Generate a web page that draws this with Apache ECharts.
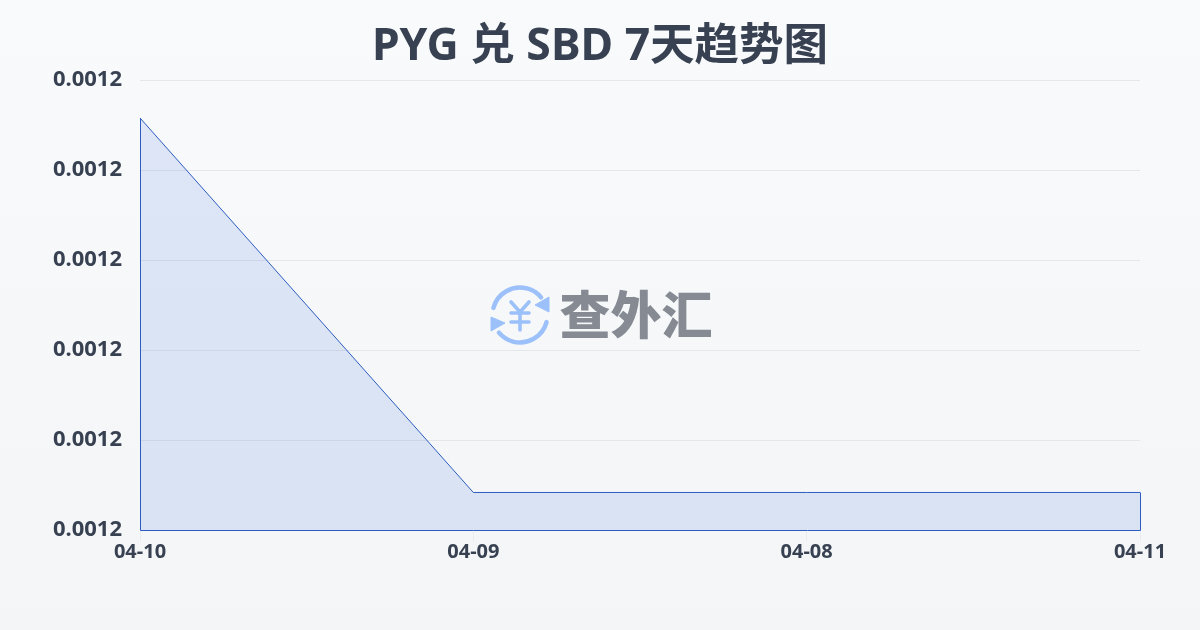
<!DOCTYPE html>
<html>
<head>
<meta charset="utf-8">
<style>html,body{margin:0;padding:0;width:1200px;height:630px;overflow:hidden;background:#f8fafc}#c{width:1200px;height:630px}</style>
<script src="https://cdn.jsdelivr.net/npm/echarts@6/dist/echarts.min.js"></script>
</head>
<body>
<div id="c"></div>
<script>
const titleText = 'PYG 兑 SBD 7天趋势图';
const categories = ['04-10', '04-09', '04-08', '04-11'];
const rates = [0.00123578, 0.00119417, 0.00119417, 0.00119417];
const axisMin = 0.00119, axisMax = 0.00124, axisStep = 0.00001;
const LINE = '#2d5cc0', INK = '#374151', FONT = '"Noto Sans","Noto Sans CJK SC",sans-serif';

const chart = echarts.init(document.getElementById('c'), null, {renderer: 'canvas'});
const BLUE = '#9cc0fa';
const arrow = (pts) => ({type: 'polygon', shape: {points: pts}, style: {fill: BLUE, stroke: BLUE, lineWidth: 1, lineJoin: 'round'}, z: 20, silent: true});
const rad = d => d * Math.PI / 180;
const arc = (a, b) => ({type: 'arc', shape: {cx: 520, cy: 315, r: 27.5, startAngle: rad(a), endAngle: rad(b)},
  style: {stroke: BLUE, lineWidth: 4.5, fill: null, lineCap: 'round'}, z: 20, silent: true});
const seg = (x1, y1, x2, y2) => ({type: 'line', shape: {x1, y1, x2, y2},
  style: {stroke: BLUE, lineWidth: 3.6, lineCap: 'round'}, z: 20, silent: true});

chart.setOption({
  animation: false,
  backgroundColor: new echarts.graphic.LinearGradient(0, 0, 0, 1, [
    {offset: 0, color: '#f8fafc'}, {offset: 1, color: '#f3f5f7'}]),
  title: {text: titleText, left: 'center', top: 20,
    textStyle: {fontFamily: FONT, fontSize: 44.5, fontWeight: 700, color: '#374151'}},
  grid: {left: 140, right: 60, top: 80, bottom: 100},
  xAxis: {type: 'category', data: categories, boundaryGap: false,
    axisLine: {show: false},
    axisTick: {show: true, length: 11, lineStyle: {color: '#e9ebef'}},
    axisLabel: {fontFamily: FONT, fontSize: 20, fontWeight: 700, color: INK, margin: 12, hideOverlap: false, interval: 0},
    splitLine: {show: false}},
  yAxis: {type: 'value', min: axisMin, max: axisMax, interval: axisStep,
    axisLine: {show: false}, axisTick: {show: false},
    axisLabel: {fontFamily: FONT, fontSize: 22, fontWeight: 700, color: INK, margin: 18,
      formatter: v => v.toFixed(4)},
    splitLine: {show: true, lineStyle: {color: '#e5e7eb', width: 1}}},
  series: [
    {type: 'line', data: rates, symbol: 'none', smooth: false, clip: false,
     lineStyle: {color: LINE, width: 1}, areaStyle: {color: 'rgba(37,95,215,0.18)'}, z: 3},
    {type: 'custom', data: rates.map((v, i) => [i, v]), clip: false, silent: true, z: 4,
     encode: {x: 0, y: 1},
     renderItem(params, api) {
       const i = api.value(0), last = rates.length - 1;
       const top = api.coord([i, api.value(1)]), base = api.coord([i, axisMin]);
       const style = {stroke: LINE, lineWidth: 1, fill: null};
       const snap = v => Math.round(v) + 0.5;
       const children = [];
       if (i === 0 || i === last) children.push({type: 'line', shape: {x1: snap(top[0]), y1: top[1], x2: snap(base[0]), y2: snap(base[1])}, style});
       if (i < last) { const next = api.coord([i + 1, axisMin]);
         children.push({type: 'line', shape: {x1: snap(base[0]), y1: snap(base[1]), x2: snap(next[0]), y2: snap(next[1])}, style}); }
       return {type: 'group', children};
     }}
  ],
  graphic: [
    arc(-165, -40), arc(15, 140),
    arrow([[549,297],[549,312],[535,305]]),
    arrow([[491,317],[491,331],[505,323]]),
    seg(511,302,520,312), seg(529,302,520,312),
    seg(511,313,529,313), seg(511,322,529,322), seg(520,312,520,330),
    {type: 'text', silent: true, z: 20, style: {text: '查外汇', x: 636, y: 315, align: 'center', verticalAlign: 'middle',
      font: '900 51px "Noto Sans CJK SC"', fill: '#858a93'}}
  ]
});
</script>
</body>
</html>
